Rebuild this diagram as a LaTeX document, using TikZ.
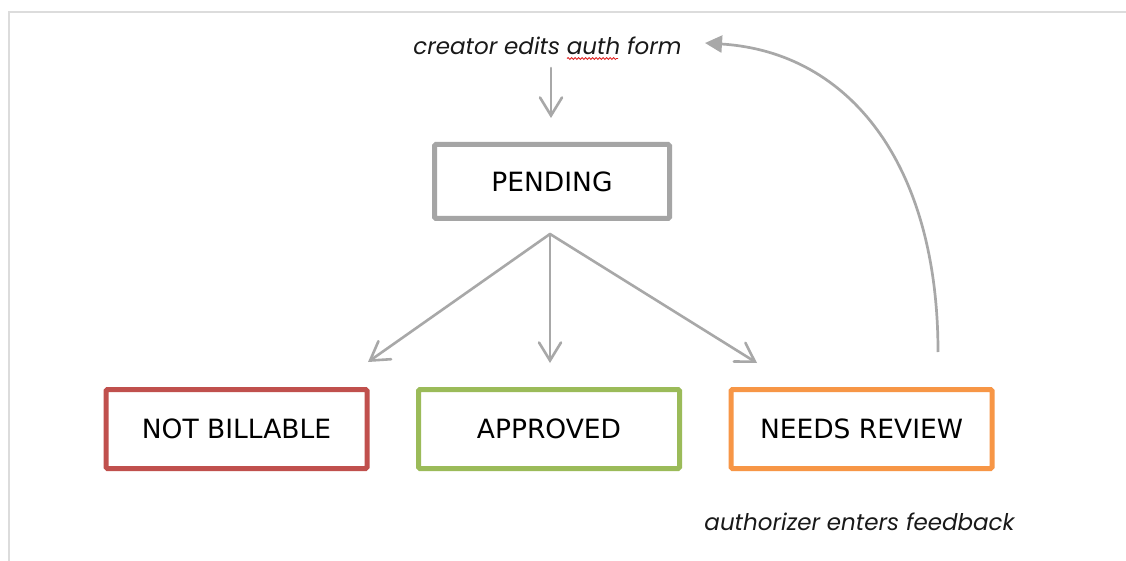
\documentclass[tikz,border=0pt]{standalone}
\usepackage{fontspec}
\setmainfont{DejaVu Sans}
\newfontfamily\notefont{Poppins}
\usetikzlibrary{arrows.meta,decorations.pathmorphing}

\definecolor{framegray}{HTML}{DCDCDC}
\definecolor{linegray}{HTML}{A8A8A8}
\definecolor{pendgray}{HTML}{A5A5A5}
\definecolor{nbred}{HTML}{C0504D}
\definecolor{apgreen}{HTML}{9BBB59}
\definecolor{nrorange}{HTML}{F79646}
\definecolor{spellred}{HTML}{E02020}

\tikzset{
  statebox/.style={draw, line width=5pt, rounded corners=1.5pt, fill=white,
    minimum width=261pt, minimum height=79pt, inner sep=0pt,
    font=\fontsize{26.5}{30}\selectfont, text=black},
  flow/.style={draw=linegray, line width=2.6pt, line cap=round,
    -{Straight Barb[length=18pt,width=22pt,line cap=round]}},
  loopback/.style={draw=linegray, line width=2.7pt,
    -{Triangle[length=17pt,width=17pt]}},
  note/.style={font=\notefont\itshape\fontsize{23}{27}\selectfont, text=black!90,
    inner sep=0pt, anchor=base},
  frame/.style={draw=framegray, line width=2pt}
}

\begin{document}
\begin{tikzpicture}[x=1pt,y=-1pt]
\useasboundingbox (0,0) rectangle (1126,561);
\fill[white] (0,0) rectangle (1126,561);

% page frame
\draw[frame] (8.5,561) -- (8.5,12.5) -- (1126,12.5);

% states
\node[statebox, draw=pendgray, minimum width=235pt, minimum height=74pt] (pending) at (552,181.5) {PENDING};
\node[statebox, draw=nbred]    (notbillable) at (236.5,429) {NOT BILLABLE};
\node[statebox, draw=apgreen]  (approved)    at (549,429)   {APPROVED};
\node[statebox, draw=nrorange] (needsreview) at (861.5,429) {NEEDS REVIEW};

% notes
\node[note] (edits) at (547.5,55) {creator edits auth form};
\node[note] (feedback) at (859.5,530) {authorizer enters feedback};

% spell-check squiggle under "auth"
\draw[spellred, line width=0.8pt, decorate,
  decoration={snake, amplitude=1pt, segment length=3.5pt}] (567,58.5) -- (618,58.5);

% connector end points
\coordinate (intoPending) at (551,68);
\coordinate (pendingIn)   at (551,118);
\coordinate (fork)        at (550,234);
\coordinate (nbIn)        at (368,362);
\coordinate (apIn)        at (550,363);
\coordinate (nrIn)        at (757,363);
\coordinate (nrOut)       at (938,352);
\coordinate (editsIn)     at (705,43);

% connectors
\draw[flow] (intoPending) -- (pendingIn);
\draw[flow] (fork) -- (nbIn);
\draw[flow] (fork) -- (apIn);
\draw[flow] (fork) -- (nrIn);
\draw[loopback] (nrOut) .. controls (938,165) and (850,52) .. (editsIn);
\end{tikzpicture}
\end{document}
